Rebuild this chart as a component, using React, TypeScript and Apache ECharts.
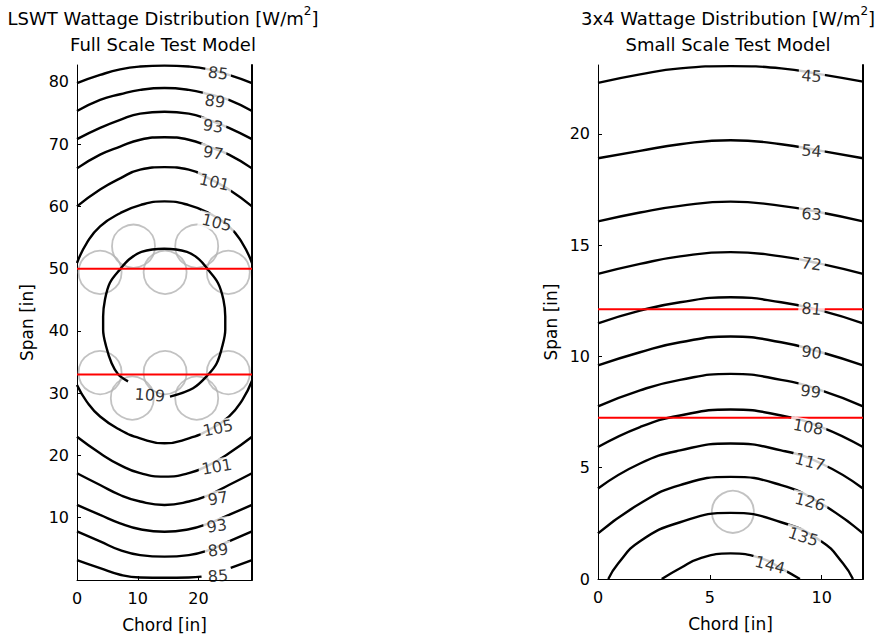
import { useEffect, useRef } from 'react';
import * as echarts from 'echarts';

const FONT = '"DejaVu Sans", sans-serif';

// ---------------- LSWT full scale model (left) ----------------
const lswtChordMax = 28.8;
const lswtSpanMax = 82.7;
const lswtChordTicks = [0, 10, 20];
const lswtSpanTicks = [10, 20, 30, 40, 50, 60, 70, 80];

// contour levels above the lamps (85 at top ... 105)
const lswtUpperContours: number[][][] = [
  [[0, 79.8], [3.8, 81.1], [7.1, 82.0], [10.4, 82.45], [14.4, 82.6], [18.4, 82.45], [21.7, 82.0], [25.0, 81.1], [28.8, 79.8]],
  [[0, 75.3], [3.8, 77.1], [7.1, 78.0], [10.4, 78.7], [14.4, 79.0], [18.4, 78.7], [21.7, 78.0], [25.0, 77.1], [28.8, 75.3]],
  [[0, 70.8], [3.8, 72.6], [7.1, 73.9], [10.4, 74.9], [14.4, 75.2], [18.4, 74.9], [21.7, 73.9], [25.0, 72.6], [28.8, 70.8]],
  [[0, 66.1], [3.8, 68.3], [7.1, 69.6], [10.4, 70.7], [14.4, 71.1], [18.4, 70.7], [21.7, 69.6], [25.0, 68.3], [28.8, 66.1]],
  [[0, 60.0], [3.8, 62.7], [7.1, 64.5], [10.4, 65.9], [14.4, 66.3], [18.4, 65.9], [21.7, 64.5], [25.0, 62.7], [28.8, 60.0]],
  [[0, 50.9], [1.6, 54.1], [3.8, 56.8], [7.1, 58.9], [10.4, 60.2], [14.4, 60.8], [18.4, 60.2], [21.7, 58.9], [25.0, 56.8], [27.2, 54.1], [28.8, 50.9]],
];
// contour levels below the lamps (85 at bottom, in two pieces around its label ... 105)
const lswtLowerContours: number[][][] = [
  [[0, 3.2], [3.8, 1.9], [7.1, 0.85], [10.4, 0.4], [14.4, 0.35], [18.4, 0.4], [20.5, 0.55]],
  [[25.3, 1.95], [28.8, 3.2]],
  [[0, 7.8], [3.8, 6.2], [7.1, 4.8], [10.4, 4.0], [14.4, 3.75], [18.4, 4.0], [21.7, 4.8], [25.0, 6.2], [28.8, 7.8]],
  [[0, 12.05], [3.8, 10.45], [7.1, 9.1], [10.4, 8.15], [14.4, 7.75], [18.4, 8.15], [21.7, 9.1], [25.0, 10.45], [28.8, 12.05]],
  [[0, 17.15], [3.8, 15.25], [7.1, 13.65], [10.4, 12.6], [14.4, 12.05], [18.4, 12.6], [21.7, 13.65], [25.0, 15.25], [28.8, 17.15]],
  [[0, 23.0], [3.8, 20.35], [7.1, 18.45], [10.4, 17.15], [14.4, 16.6], [18.4, 17.15], [21.7, 18.45], [25.0, 20.35], [28.8, 23.0]],
  [[0, 31.3], [1.6, 28.65], [3.8, 26.25], [7.1, 24.1], [10.4, 22.75], [14.4, 21.95], [18.4, 22.75], [21.7, 24.1], [25.0, 26.25], [27.2, 28.9], [28.8, 32.0]],
];
// the 109 loop around the lamp field (open where its label sits)
const lswtInnerContour: number[][] = [
  [8.4, 31.9], [6.8, 33.0], [5.7, 34.8], [4.8, 37.5], [4.3, 40.2], [4.3, 42.3], [4.6, 45.0], [5.4, 47.7],
  [7.1, 49.9], [8.6, 51.5], [10.6, 52.7], [14.35, 53.2], [18.1, 52.7], [20.1, 51.5], [21.5, 49.9],
  [23.2, 47.7], [24.1, 45.0], [24.4, 42.3], [24.4, 40.2], [23.9, 37.5], [23.0, 34.8], [21.6, 33.0],
  [19.1, 30.8], [15.3, 29.45],
];
const lswtLabelLevels = ['85', '89', '93', '97', '101', '105', '109', '105', '101', '97', '93', '89', '85'];
const lswtLabelPoints: number[][] = [
  [23.2, 81.4], [22.7, 76.9], [22.4, 72.9], [22.4, 68.6], [22.6, 63.9], [23.0, 57.4],
  [12.0, 29.7], [23.2, 24.4], [23.0, 18.2], [23.2, 13.1], [23.0, 8.7], [23.2, 4.8], [23.2, 0.65],
];
const lswtLabelAngles = [-8, -8, -8, -10, -13, -14, -4, 12, 10, 9, 8, 7, 5];
const lswtUnboxedLabels = [6, 12];
const lswtLampCenters: number[][] = [
  [3.8, 49.4], [14.5, 49.4], [24.9, 49.4], [9.3, 53.6], [19.7, 53.6],
  [3.8, 33.3], [14.5, 33.3], [24.9, 33.3], [9.1, 29.2], [19.7, 29.2],
];
const lswtRedLines = [50, 33];

// ---------------- 3x4 small scale model (right) ----------------
const smallChordMax = 11.85;
const smallSpanMax = 23.1;
const smallChordTicks = [0, 5, 10];
const smallSpanTicks = [0, 5, 10, 15, 20];
const smallContours: number[][][] = [
  [[0, 22.3], [1.88, 22.68], [3.67, 22.95], [5.93, 23.05], [8.19, 22.95], [9.98, 22.68], [11.85, 22.35]],
  [[0, 18.91], [1.88, 19.24], [3.67, 19.54], [5.93, 19.72], [8.19, 19.54], [9.98, 19.24], [11.85, 18.91]],
  [[0, 16.07], [1.88, 16.47], [3.67, 16.77], [5.93, 16.96], [8.19, 16.77], [9.98, 16.47], [11.85, 16.07]],
  [[0, 13.71], [1.88, 14.16], [3.67, 14.5], [5.93, 14.69], [8.19, 14.5], [9.98, 14.16], [11.85, 13.71]],
  [[0, 11.49], [1.88, 12.06], [3.67, 12.44], [5.93, 12.66], [8.19, 12.44], [9.98, 12.06], [11.85, 11.49]],
  [[0, 9.6], [1.88, 10.19], [3.67, 10.64], [5.93, 10.9], [8.19, 10.64], [9.98, 10.19], [11.85, 9.6]],
  [[0, 7.76], [1.88, 8.48], [3.67, 8.95], [5.93, 9.22], [8.19, 8.95], [9.98, 8.48], [11.85, 7.76]],
  [[0, 5.93], [1.88, 6.83], [3.67, 7.35], [5.93, 7.62], [8.19, 7.35], [9.98, 6.83], [11.85, 5.93]],
  [[0, 4.07], [1.88, 5.19], [3.67, 5.78], [5.93, 6.09], [8.19, 5.78], [9.98, 5.19], [11.85, 4.07]],
  [[0, 2.05], [1.88, 3.39], [3.67, 4.22], [5.93, 4.59], [8.19, 4.22], [9.98, 3.39], [11.85, 2.05]],
  [[0.46, 0], [0.9, 0.7], [1.88, 1.7], [3.67, 2.55], [5.93, 2.97], [8.19, 2.55], [9.98, 1.7], [10.96, 0.7], [11.4, 0]],
  [[2.85, 0], [3.67, 0.48], [4.56, 0.93], [5.93, 1.15], [7.3, 0.93], [8.19, 0.48], [9.03, 0]],
];
const smallLabelLevels = ['45', '54', '63', '72', '81', '90', '99', '108', '117', '126', '135', '144'];
const smallLabelPoints: number[][] = [
  [9.55, 22.6], [9.55, 19.24], [9.55, 16.4], [9.55, 14.16], [9.55, 12.14], [9.55, 10.19],
  [9.51, 8.43], [9.4, 6.83], [9.48, 5.26], [9.48, 3.47], [9.18, 1.9], [7.69, 0.63],
];
const smallLabelAngles = [-5, -5, -5, -8, -5, -8, -8, -10, -15, -15, -18, -15];
const smallUnboxedLabels: number[] = [];
const smallLampCenters: number[][] = [[6.03, 3.02]];
const smallRedLines = [12.12, 7.25];

const textBase = { fontFamily: FONT, color: '#000' };

function contour(data: number[][], grid: number, z = 3, color = '#000', width = 2.4, smooth: number | boolean = 0.5) {
  return {
    type: 'line',
    xAxisIndex: grid,
    yAxisIndex: grid * 2,
    data,
    smooth,
    symbol: 'none',
    silent: true,
    z,
    lineStyle: { color, width },
  };
}

function lamps(data: number[][], grid: number, size: number) {
  return {
    type: 'scatter',
    xAxisIndex: grid,
    yAxisIndex: grid * 2,
    data,
    symbol: 'circle',
    symbolSize: size,
    silent: true,
    z: 1,
    itemStyle: { color: 'rgba(0,0,0,0)', borderColor: '#b3b3b3', borderWidth: 1.8 },
  };
}

function labels(levels: string[], points: number[][], angles: number[], unboxed: number[], grid: number) {
  return {
    type: 'scatter',
    xAxisIndex: grid,
    yAxisIndex: grid * 2,
    symbolSize: 1,
    silent: true,
    z: 5,
    itemStyle: { color: 'rgba(0,0,0,0)' },
    label: {
      show: true,
      position: 'inside',
      formatter: '{b}',
      ...textBase,
      fontSize: 16,
      backgroundColor: '#fff',
      padding: [0, 3],
    },
    data: levels.map((lv, i) => ({
      name: lv,
      value: points[i],
      label: { rotate: angles[i], backgroundColor: unboxed.includes(i) ? 'rgba(0,0,0,0)' : '#fff' },
    })),
  };
}

function xAxis(grid: number, max: number, ticks: number[]) {
  return {
    type: 'value',
    gridIndex: grid,
    min: 0,
    max,
    position: 'bottom',
    name: 'Chord [in]',
    nameLocation: 'middle',
    nameGap: 36,
    nameTextStyle: { ...textBase, fontSize: 17 },
    axisLine: { show: true, onZero: false, lineStyle: { color: '#000', width: 1 } },
    axisTick: { show: true, inside: true, length: 4, customValues: ticks, lineStyle: { color: '#000' } },
    axisLabel: { customValues: ticks, margin: 10, ...textBase, fontSize: 16 },
    splitLine: { show: false },
  };
}

function yAxes(grid: number, max: number, ticks: number[], gap: number) {
  return [
    {
      type: 'value',
      gridIndex: grid,
      min: 0,
      max,
      position: 'left',
      name: 'Span [in]',
      nameLocation: 'middle',
      nameGap: gap,
      nameTextStyle: { ...textBase, fontSize: 17 },
      axisLine: { show: true, onZero: false, lineStyle: { color: '#000', width: 1 } },
      axisTick: { show: true, inside: true, length: 4, customValues: ticks, lineStyle: { color: '#000' } },
      axisLabel: { customValues: ticks, margin: 8, ...textBase, fontSize: 16 },
      splitLine: { show: false },
    },
    {
      type: 'value',
      gridIndex: grid,
      min: 0,
      max,
      position: 'right',
      axisLine: { show: true, onZero: false, lineStyle: { color: '#000', width: 2 } },
      axisTick: { show: false },
      axisLabel: { show: false },
      splitLine: { show: false },
    },
  ];
}

function buildOption() {
  const series: any[] = [];
  // left panel
  series.push(lamps(lswtLampCenters, 0, 43));
  lswtRedLines.forEach((y) => series.push(contour([[0, y], [lswtChordMax, y]], 0, 4, '#ff0000', 2, false)));
  lswtUpperContours.forEach((c) => series.push(contour(c, 0)));
  lswtLowerContours.forEach((c) => series.push(contour(c, 0)));
  series.push(contour(lswtInnerContour, 0, 3, '#000', 2.4, 0.35));
  series.push(labels(lswtLabelLevels, lswtLabelPoints, lswtLabelAngles, lswtUnboxedLabels, 0));
  // right panel
  series.push(lamps(smallLampCenters, 1, 42));
  smallRedLines.forEach((y) => series.push(contour([[0, y], [smallChordMax, y]], 1, 4, '#ff0000', 2, false)));
  smallContours.forEach((c) => series.push(contour(c, 1)));
  series.push(labels(smallLabelLevels, smallLabelPoints, smallLabelAngles, smallUnboxedLabels, 1));

  const titleStyle = {
    ...textBase,
    fontSize: 18,
    fontWeight: 'normal',
    lineHeight: 26,
    rich: { sup: { ...textBase, fontSize: 12, lineHeight: 26, verticalAlign: 'top' } },
  };

  return {
    animation: false,
    backgroundColor: '#fff',
    title: [
      { text: 'LSWT Wattage Distribution [W/m{sup|2}]\nFull Scale Test Model', left: 158, top: 0, textAlign: 'center', textStyle: titleStyle },
      { text: '3x4 Wattage Distribution [W/m{sup|2}]\nSmall Scale Test Model', left: 723, top: 0, textAlign: 'center', textStyle: titleStyle },
    ],
    grid: [
      { left: 77, top: 65, width: 175, height: 515, containLabel: false },
      { left: 598, top: 65, width: 265, height: 514, containLabel: false },
    ],
    xAxis: [xAxis(0, lswtChordMax, lswtChordTicks), xAxis(1, smallChordMax, smallChordTicks)],
    yAxis: [...yAxes(0, lswtSpanMax, lswtSpanTicks, 42), ...yAxes(1, smallSpanMax, smallSpanTicks, 39)],
    series,
  };
}

export default function App() {
  const ref = useRef<HTMLDivElement>(null);
  useEffect(() => {
    const chart = echarts.init(ref.current as HTMLDivElement, null, { renderer: 'svg' });
    chart.setOption(buildOption() as any);
    return () => chart.dispose();
  }, []);
  return (
    <div
      ref={ref}
      style={{ position: 'absolute', left: 0, top: 0, width: 877, height: 638, background: '#fff' }}
    />
  );
}
